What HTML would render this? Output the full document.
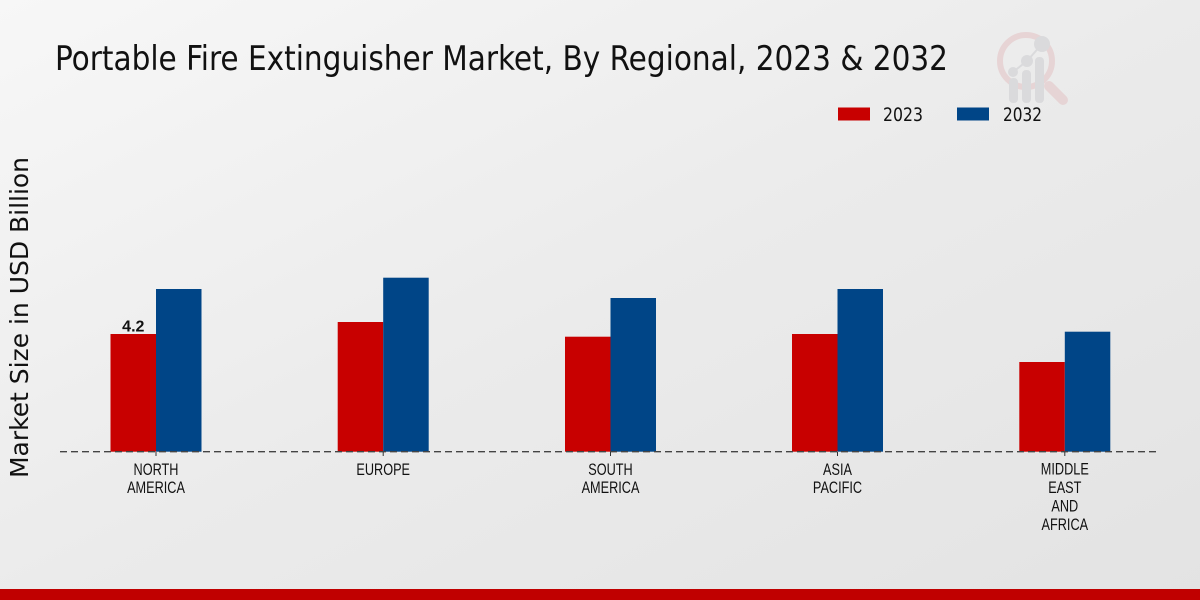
<!DOCTYPE html>
<html>
<head>
<meta charset="utf-8">
<style>
  html, body { margin: 0; padding: 0; }
  body { width: 1200px; height: 600px; overflow: hidden; }
  svg { display: block; }
</style>
</head>
<body>
<svg width="1200" height="600" viewBox="0 0 1200 600" xmlns="http://www.w3.org/2000/svg">
  <defs>
    <linearGradient id="bg" x1="0" y1="0" x2="1" y2="1">
      <stop offset="0" stop-color="#f7f7f7"/>
      <stop offset="0.5" stop-color="#ebebeb"/>
      <stop offset="1" stop-color="#e3e3e3"/>
    </linearGradient>
  </defs>
  <rect x="0" y="0" width="1200" height="600" fill="url(#bg)"/>
  <rect x="0" y="589" width="1200" height="11" fill="#c00000"/>

  <!-- watermark logo -->
  <g opacity="0.8">
    <circle cx="1026" cy="61" r="26" fill="none" stroke="#e6cfd0" stroke-width="6"/>
    <line x1="1049" y1="86" x2="1063" y2="100" stroke="#e6cfd0" stroke-width="10" stroke-linecap="round"/>
    <rect x="1009" y="78" width="9" height="25" rx="4" fill="#d6d6d9"/>
    <rect x="1022" y="70" width="9" height="33" rx="4" fill="#d6d6d9"/>
    <rect x="1035" y="57" width="9" height="46" rx="4" fill="#d6d6d9"/>
    <circle cx="1013" cy="72" r="5" fill="#d6d6d9"/>
    <circle cx="1027" cy="61" r="6" fill="#d6d6d9"/>
    <circle cx="1042" cy="44" r="8" fill="#d6d6d9"/>
    <polyline points="1013,72 1027,61 1042,44" fill="none" stroke="#d6d6d9" stroke-width="2"/>
  </g>

  <!-- title -->
  <text x="55" y="70" font-family="DejaVu Sans Condensed, DejaVu Sans, Liberation Sans, sans-serif" font-size="34" fill="#111" textLength="893" lengthAdjust="spacingAndGlyphs">Portable Fire Extinguisher Market, By Regional, 2023 &amp; 2032</text>

  <!-- legend -->
  <rect x="838" y="107.5" width="32" height="13" fill="#c80000"/>
  <text x="883" y="121" font-family="DejaVu Sans Condensed, DejaVu Sans, Liberation Sans, sans-serif" font-size="19" fill="#111" textLength="40" lengthAdjust="spacingAndGlyphs">2023</text>
  <rect x="957" y="107.5" width="32" height="13" fill="#004587"/>
  <text x="1003" y="121" font-family="DejaVu Sans Condensed, DejaVu Sans, Liberation Sans, sans-serif" font-size="19" fill="#111" textLength="39" lengthAdjust="spacingAndGlyphs">2032</text>

  <!-- y axis label -->
  <text transform="translate(28,317.5) rotate(-90)" text-anchor="middle" font-family="DejaVu Sans, Liberation Sans, sans-serif" font-size="25" fill="#111" textLength="321" lengthAdjust="spacingAndGlyphs">Market Size in USD Billion</text>

  <!-- bars -->
  <g>
    <rect x="110.5" y="334" width="45.5" height="117.7" fill="#c80000"/>
    <rect x="156" y="289" width="45.5" height="162.7" fill="#004587"/>

    <rect x="337.7" y="322" width="45.5" height="129.7" fill="#c80000"/>
    <rect x="383.2" y="277.7" width="45.5" height="174" fill="#004587"/>

    <rect x="565" y="336.7" width="45.5" height="115" fill="#c80000"/>
    <rect x="610.5" y="298" width="45.5" height="153.7" fill="#004587"/>

    <rect x="792" y="334" width="45.5" height="117.7" fill="#c80000"/>
    <rect x="837.5" y="289" width="45.5" height="162.7" fill="#004587"/>

    <rect x="1019.3" y="362" width="45.5" height="89.7" fill="#c80000"/>
    <rect x="1064.8" y="331.7" width="45.5" height="120" fill="#004587"/>
  </g>

  <!-- baseline dashed -->
  <line x1="60" y1="451.7" x2="1158" y2="451.7" stroke="#444" stroke-width="1.3" stroke-dasharray="7,4"/>

  <!-- ticks -->
  <g stroke="#333" stroke-width="1">
    <line x1="156" y1="452" x2="156" y2="456"/>
    <line x1="383.2" y1="452" x2="383.2" y2="456"/>
    <line x1="610.5" y1="452" x2="610.5" y2="456"/>
    <line x1="837.5" y1="452" x2="837.5" y2="456"/>
    <line x1="1064.8" y1="452" x2="1064.8" y2="456"/>
  </g>

  <!-- value label -->
  <text x="133.3" y="331.5" text-anchor="middle" font-family="Liberation Sans, DejaVu Sans, sans-serif" font-size="16" font-weight="bold" fill="#111">4.2</text>

  <!-- category labels -->
  <g font-family="Liberation Sans, DejaVu Sans, sans-serif" font-size="16.5" fill="#111" text-anchor="middle">
    <g transform="translate(156,0) scale(0.77,1)">
      <text x="0" y="475">NORTH</text>
      <text x="0" y="493">AMERICA</text>
    </g>
    <g transform="translate(383.2,0) scale(0.77,1)">
      <text x="0" y="475">EUROPE</text>
    </g>
    <g transform="translate(610.5,0) scale(0.77,1)">
      <text x="0" y="475">SOUTH</text>
      <text x="0" y="493">AMERICA</text>
    </g>
    <g transform="translate(837.5,0) scale(0.77,1)">
      <text x="0" y="475">ASIA</text>
      <text x="0" y="493">PACIFIC</text>
    </g>
    <g transform="translate(1064.8,0) scale(0.77,1)">
      <text x="0" y="474.5">MIDDLE</text>
      <text x="0" y="493">EAST</text>
      <text x="0" y="511.5">AND</text>
      <text x="0" y="530">AFRICA</text>
    </g>
  </g>
</svg>
</body>
</html>
